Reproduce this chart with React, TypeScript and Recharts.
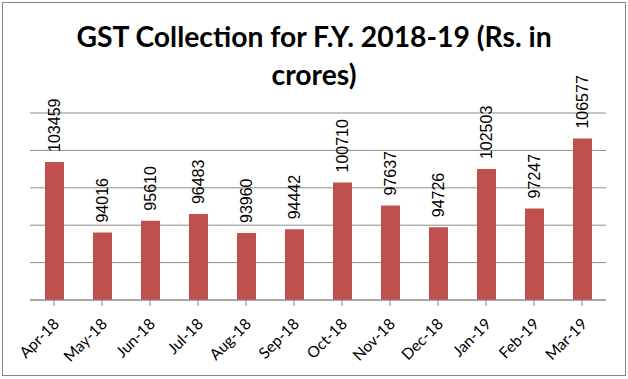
import React from 'react';
import { BarChart, Bar, XAxis, YAxis, CartesianGrid, LabelList } from 'recharts';

const months = ['Apr-18', 'May-18', 'Jun-18', 'Jul-18', 'Aug-18', 'Sep-18', 'Oct-18', 'Nov-18', 'Dec-18', 'Jan-19', 'Feb-19', 'Mar-19'];
const collection = [103459, 94016, 95610, 96483, 93960, 94442, 100710, 97637, 94726, 102503, 97247, 106577];
const yTicks = [85000, 90000, 95000, 100000, 105000, 110000];

const data = months.map((month, i) => ({ month, value: collection[i] }));

const MonthTick = (props: any) => {
  const { x, y, payload } = props;
  const tx = x + 6;
  const ty = y + 17;
  return (
    <text x={tx} y={ty} transform={`rotate(-45 ${tx} ${ty})`} textAnchor="end"
      fontFamily="Lato" fontSize={15.5} fill="#000">
      {payload.value}
    </text>
  );
};

const ValueLabel = (props: any) => {
  const { x, y, width, value } = props;
  const lx = x + width / 2;
  const ly = y - 10;
  return (
    <text x={lx} y={ly} transform={`rotate(-90 ${lx} ${ly})`} textAnchor="start"
      dominantBaseline="central" fontFamily="Liberation Sans" fontSize={16} fill="#000">
      {value}
    </text>
  );
};

const App = () => (
  <div style={{ position: 'absolute', left: 0, top: 0, width: 628, height: 379, background: '#fff' }}>
    <div style={{ position: 'absolute', left: 2, top: 2, width: 622, height: 372, border: '1px solid #868686' }} />
    <div style={{
      position: 'absolute', left: 0, top: 17, width: 628, textAlign: 'center',
      fontFamily: 'Lato', fontWeight: 'bold', fontSize: 28.3, lineHeight: '38px', color: '#000'
    }}>
      GST Collection for F.Y. 2018-19 (Rs. in<br />crores)
    </div>
    <div style={{ position: 'absolute', left: 0, top: 0 }}>
      <BarChart width={628} height={379} data={data} margin={{ top: 113, right: 22, bottom: 9, left: 30 }}>
        <CartesianGrid horizontal vertical={false} stroke="#8c8c8c" />
        <XAxis dataKey="month" height={70} interval={0} tick={<MonthTick />}
          axisLine={{ stroke: '#8c8c8c' }} tickLine={{ stroke: '#8c8c8c' }} tickSize={6} />
        <YAxis width={0} domain={[85000, 110000]} ticks={yTicks} tickFormatter={() => ''}
          axisLine={false} tickLine={false} />
        <Bar dataKey="value" fill="#C0504D" barSize={19} isAnimationActive={false}>
          <LabelList dataKey="value" content={<ValueLabel />} />
        </Bar>
      </BarChart>
    </div>
  </div>
);

export default App;
